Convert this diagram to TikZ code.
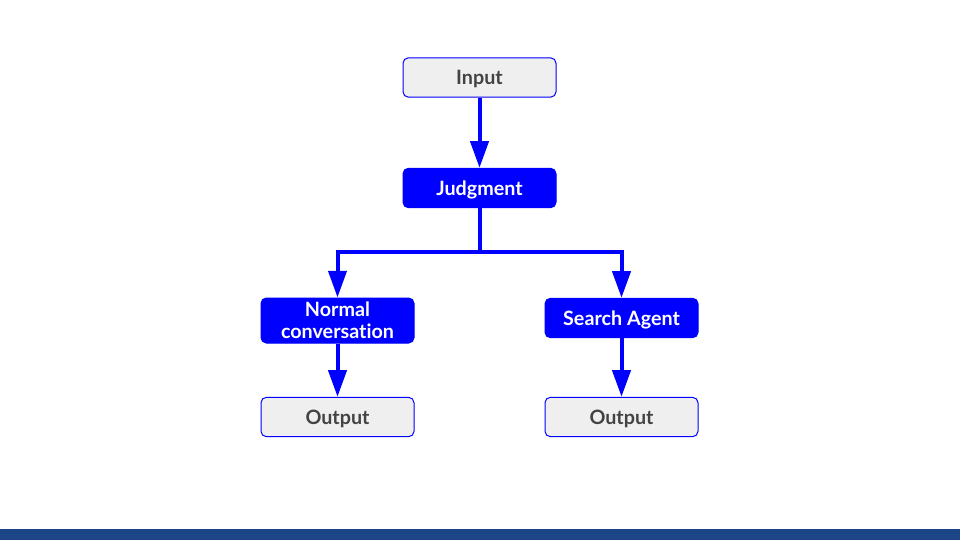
\documentclass[tikz,border=0pt]{standalone}
\usepackage{fontspec}
\setmainfont{Lato}[Ligatures=NoCommon]
\usetikzlibrary{arrows.meta}
\definecolor{pblue}{HTML}{0000FF}
\definecolor{pgray}{HTML}{EFEFEF}
\definecolor{ptext}{HTML}{434343}
\definecolor{pbar}{HTML}{1C4587}
\begin{document}
\begin{tikzpicture}[x=0.75pt,y=-0.75pt,
  box/.style={draw=pblue,line width=0.75pt,rounded corners=4pt,minimum width=114.75pt,minimum height=29.5pt,inner sep=1pt,font=\fontsize{14.8}{16.5}\selectfont\bfseries,align=center},
  oneline/.style={text depth=0pt},
  lightbox/.style={box,oneline,fill=pgray,text=ptext},
  darkbox/.style={box,fill=pblue,text=white},
  conn/.style={draw=pblue,line width=3pt,-{Triangle[width=13.5pt,length=20pt]}}]
\useasboundingbox (0,0) rectangle (960,540);
\fill[white] (0,0) rectangle (960,540);
\fill[pbar] (0,529) rectangle (960,540);
\node[lightbox] (in) at (479.5,77.5) {Input};
\node[darkbox,oneline] (jd) at (479.5,188) {Judgment};
\node[darkbox,minimum height=33.75pt] (nc) at (337.5,320.5) {Normal\\conversation};
\node[darkbox,oneline] (sa) at (621.5,318) {Search Agent};
\node[lightbox] (o1) at (337.5,417) {Output};
\node[lightbox] (o2) at (621.5,417) {Output};
\coordinate (split) at (479.5,252);
\draw[conn] (in) -- (jd);
\draw[draw=pblue,line width=3pt] (jd.south) -- (split);
\draw[conn] (split) -| (nc.north);
\draw[conn] (split) -| (sa.north);
\draw[conn] (nc) -- (o1);
\draw[conn] (sa) -- (o2);
\end{tikzpicture}
\end{document}
